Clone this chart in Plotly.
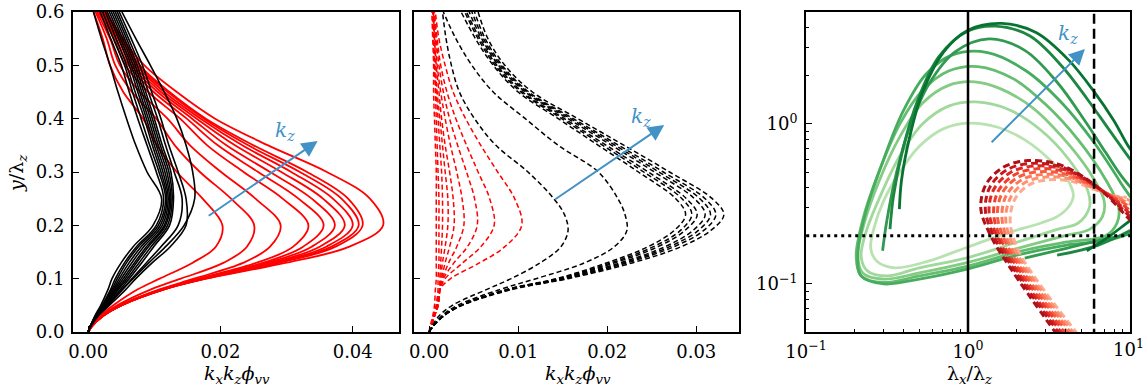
import math
import plotly.graph_objects as go

# ---------------- Panel (a): solid curves, x value at each y level ----------------
Y_LEVELS_A = [0, 0.01, 0.03, 0.05, 0.08, 0.1, 0.13, 0.16, 0.2, 0.25, 0.3, 0.35, 0.4, 0.45, 0.5, 0.55, 0.6]

RED_A = [
    [0, .0004, .0018, .0038, .0075, .0108, .0158, .0193, .0203, .0173, .0134, .0104, .0083, .0053, .0033, .0022, .0008],
    [0, .0005, .0020, .0044, .0095, .0140, .0205, .0240, .0251, .0216, .0169, .0131, .0103, .0066, .0041, .0028, .0011],
    [0, .0005, .0022, .0048, .0108, .0160, .0235, .0275, .0291, .0253, .0201, .0154, .0120, .0078, .0048, .0033, .0013],
    [0, .0005, .0022, .0049, .0110, .0167, .0255, .0310, .0333, .0294, .0235, .0180, .0139, .0091, .0056, .0039, .0015],
    [0, .0005, .0022, .0049, .0111, .0170, .0265, .0325, .0356, .0318, .0257, .0196, .0149, .0099, .0061, .0042, .0017],
    [0, .0005, .0022, .0049, .0112, .0172, .0272, .0338, .0373, .0338, .0275, .0209, .0157, .0105, .0065, .0045, .0019],
    [0, .0005, .0022, .0050, .0113, .0174, .0278, .0350, .0388, .0355, .0292, .0222, .0164, .0110, .0069, .0047, .0020],
    [0, .0005, .0022, .0050, .0114, .0175, .0283, .0360, .0400, .0370, .0307, .0233, .0170, .0115, .0073, .0050, .0022],
    [0, .0005, .0022, .0050, .0114, .0176, .0287, .0368, .0409, .0383, .0320, .0242, .0175, .0120, .0075, .0052, .0023],
    [0, .0005, .0022, .0050, .0115, .0177, .0290, .0374, .0415, .0393, .0331, .0250, .0178, .0123, .0078, .0053, .0024],
    [0, .0005, .0022, .0050, .0115, .0178, .0300, .0395, .0446, .0426, .0361, .0272, .0192, .0134, .0085, .0052, .0027],
]

BLACK_A = [
    [0, .0003, .0010, .0019, .0030, .0036, .0050, .0068, .0098, .0111, .0089, .0072, .0058, .0045, .0033, .0020, .0008],
    [0, .0003, .0011, .0021, .0034, .0041, .0055, .0073, .0103, .0114, .0103, .0089, .0075, .0062, .0050, .0034, .0018],
    [0, .0003, .0011, .0022, .0036, .0044, .0058, .0076, .0106, .0117, .0107, .0093, .0080, .0067, .0055, .0038, .0022],
    [0, .0003, .0012, .0023, .0038, .0047, .0062, .0080, .0109, .0119, .0110, .0097, .0085, .0071, .0058, .0042, .0026],
    [0, .0003, .0012, .0024, .0040, .0050, .0066, .0084, .0112, .0121, .0113, .0100, .0088, .0075, .0062, .0046, .0029],
    [0, .0003, .0012, .0025, .0042, .0053, .0070, .0088, .0115, .0123, .0116, .0103, .0091, .0078, .0065, .0049, .0032],
    [0, .0003, .0013, .0026, .0044, .0056, .0073, .0091, .0117, .0125, .0119, .0106, .0094, .0081, .0068, .0052, .0035],
    [0, .0003, .0013, .0027, .0046, .0059, .0077, .0095, .0120, .0127, .0122, .0109, .0097, .0084, .0071, .0055, .0038],
    [0, .0003, .0014, .0028, .0049, .0062, .0081, .0099, .0123, .0129, .0125, .0112, .0100, .0087, .0074, .0058, .0041],
    [0, .0003, .0014, .0030, .0052, .0066, .0088, .0110, .0136, .0142, .0130, .0117, .0105, .0091, .0078, .0061, .0044],
    [0, .0004, .0015, .0032, .0057, .0072, .0097, .0124, .0148, .0148, .0136, .0122, .0110, .0096, .0082, .0065, .0047],
    [0, .0003, .0014, .0029, .0052, .0068, .0092, .0117, .0145, .0161, .0158, .0148, .0134, .0115, .0094, .0072, .0051],
]

# ---------------- Panel (b): dashed curves ----------------
Y_LEVELS_B_RED = [0, 0.01, 0.03, 0.05, 0.08, 0.1, 0.13, 0.16, 0.2, 0.25, 0.3, 0.35, 0.4, 0.45, 0.5, 0.55, 0.6]
RED_B = [
    [0, .0002, .0005, .0008, .0012, .0024, .0057, .0085, .0104, .0096, .0077, .0058, .0041, .0027, .0018, .0011, .0007],
    [0, .0002, .0006, .0009, .0012, .0018, .0038, .0058, .0073, .0068, .0055, .0042, .0030, .0020, .0013, .0009, .0006],
    [0, .0002, .0006, .0009, .0012, .0016, .0028, .0043, .0054, .0051, .0042, .0032, .0023, .0016, .0011, .0008, .0005],
    [0, .0002, .0006, .0010, .0012, .0015, .0022, .0031, .0039, .0037, .0031, .0024, .0018, .0013, .0009, .0007, .0005],
    [0, .0002, .0006, .0010, .0012, .0014, .0018, .0023, .0028, .0027, .0023, .0018, .0014, .0011, .0008, .0006, .0005],
    [0, .0002, .0006, .0010, .0012, .0013, .0015, .0018, .0021, .0021, .0018, .0015, .0012, .0009, .0007, .0006, .0004],
    [0, .0002, .0006, .0010, .0012, .0012, .0013, .0014, .0015, .0015, .0014, .0012, .0010, .0008, .0006, .0005, .0004],
    [0, .0002, .0005, .0008, .0010, .0010, .0011, .0011, .0011, .0011, .0010, .0009, .0008, .0007, .0006, .0005, .0004],
    [0, .0001, .0004, .0006, .0007, .0008, .0008, .0008, .0008, .0008, .0008, .0007, .0006, .0005, .0005, .0004, .0003],
]

Y_LEVELS_B_BLACK = [0, 0.01, 0.03, 0.05, 0.08, 0.1, 0.13, 0.16, 0.19, 0.22, 0.25, 0.3, 0.35, 0.4, 0.45, 0.5, 0.55, 0.6]
BLACK_B = [
    [0, .0003, .0011, .0026, .0065, .0092, .0125, .0148, .0156, .0152, .0140, .0111, .0075, .0051, .0034, .0025, .0019, .0015],
    [0, .0004, .0014, .0032, .0080, .0120, .0175, .0208, .0222, .0220, .0212, .0190, .0145, .0108, .0072, .0048, .0030, .0016],
    [0, .0004, .0016, .0036, .0088, .0143, .0200, .0246, .0275, .0288, .0277, .0235, .0190, .0145, .0100, .0072, .0052, .0036],
    [0, .0004, .0016, .0036, .0089, .0145, .0205, .0252, .0282, .0295, .0284, .0241, .0195, .0149, .0103, .0074, .0055, .0040],
    [0, .0004, .0016, .0036, .0089, .0147, .0209, .0257, .0287, .0301, .0289, .0246, .0199, .0152, .0105, .0076, .0057, .0042],
    [0, .0004, .0016, .0036, .0090, .0149, .0215, .0265, .0296, .0310, .0298, .0253, .0205, .0156, .0108, .0078, .0059, .0045],
    [0, .0004, .0016, .0036, .0091, .0151, .0219, .0270, .0302, .0316, .0304, .0258, .0209, .0159, .0110, .0080, .0061, .0048],
    [0, .0004, .0016, .0036, .0092, .0153, .0223, .0275, .0308, .0322, .0310, .0263, .0213, .0162, .0112, .0082, .0063, .0051],
    [0, .0004, .0016, .0037, .0094, .0156, .0229, .0283, .0316, .0331, .0318, .0270, .0219, .0167, .0116, .0085, .0066, .0055],
]

# ---------------- Panel (c): loci in (lambda_x/lambda_z, y/lambda_z) ----------------
GREEN_X = [
    [3.55, 4.17, 4.47, 4.17, 3.16, 2.24, 1.51, 1.00, 0.708, 0.501, 0.380, 0.302, 0.263, 0.251, 0.275, 0.355, 0.562, 1.00, 1.78, 2.82, 3.55],
    [4.79, 5.62, 5.50, 4.17, 2.82, 1.78, 1.12, 0.759, 0.525, 0.380, 0.288, 0.234, 0.219, 0.240, 0.316, 0.501, 1.00, 2.00, 3.55, 4.79],
    [5.62, 6.76, 6.92, 5.62, 3.80, 2.51, 1.58, 1.10, 0.759, 0.525, 0.380, 0.282, 0.229, 0.209, 0.224, 0.302, 0.501, 1.00, 2.00, 3.98, 5.62],
    [7.08, 8.32, 8.51, 7.08, 4.79, 3.02, 1.91, 1.15, 0.759, 0.525, 0.380, 0.282, 0.224, 0.204, 0.219, 0.302, 0.501, 1.00, 2.00, 3.98, 7.08],
    [7.94, 10.5, 11.2, 8.91, 6.03, 3.80, 2.29, 1.32, 0.794, 0.550, 0.398, 0.302, 0.234, 0.209, 0.219, 0.302, 0.501, 1.00, 2.00, 3.98, 7.94],
    [0.297, 0.316, 0.363, 0.437, 0.575, 0.832, 1.35, 2.24, 3.55, 5.25, 7.08, 8.91, 11.2, None, 2.24, 3.98, 7.08, 11.2],
    [0.330, 0.347, 0.398, 0.490, 0.661, 1.00, 1.48, 2.40, 3.80, 5.50, 7.59, 10.0, 11.5, None, 3.55, 6.31, 11.2],
    [0.377, 0.389, 0.437, 0.525, 0.708, 1.00, 1.62, 2.63, 4.17, 6.03, 7.94, 9.77, 11.2, None, 5.41, 7.08, 10.0, 11.2],
]
GREEN_Y = [
    [0.263, 0.302, 0.355, 0.437, 0.603, 0.794, 0.955, 1.01, 0.933, 0.724, 0.501, 0.331, 0.224, 0.166, 0.138, 0.126, 0.138, 0.170, 0.209, 0.240, 0.263],
    [0.240, 0.302, 0.380, 0.603, 0.912, 1.23, 1.37, 1.29, 1.00, 0.631, 0.355, 0.209, 0.148, 0.120, 0.112, 0.126, 0.146, 0.182, 0.219, 0.240],
    [0.219, 0.263, 0.331, 0.501, 0.832, 1.26, 1.66, 1.83, 1.74, 1.35, 0.832, 0.437, 0.240, 0.151, 0.117, 0.107, 0.117, 0.136, 0.166, 0.200, 0.219],
    [0.200, 0.240, 0.302, 0.447, 0.794, 1.32, 1.91, 2.28, 2.14, 1.62, 1.00, 0.501, 0.251, 0.148, 0.112, 0.102, 0.112, 0.129, 0.158, 0.182, 0.200],
    [0.191, 0.219, 0.282, 0.417, 0.759, 1.35, 2.14, 2.79, 2.69, 2.04, 1.20, 0.603, 0.282, 0.158, 0.112, 0.100, 0.107, 0.124, 0.151, 0.174, 0.191],
    [0.161, 0.251, 0.501, 0.955, 1.78, 2.82, 3.40, 2.88, 1.82, 1.05, 0.661, 0.468, 0.355, None, 0.145, 0.166, 0.191, 0.209],
    [0.220, 0.355, 0.708, 1.41, 2.63, 3.80, 4.08, 3.55, 2.29, 1.41, 0.891, 0.603, 0.501, None, 0.151, 0.174, 0.229],
    [0.293, 0.447, 0.832, 1.58, 2.82, 3.85, 4.24, 3.72, 2.51, 1.58, 1.05, 0.724, 0.603, None, 0.161, 0.191, 0.248, 0.269],
]

REDC_X = [
    [4.79, 2.63, 2.04, 1.82, 1.95, 2.40, 3.16, 4.37, 6.03, 7.94, 9.55],
    [4.58, 2.49, 1.93, 1.71, 1.84, 2.28, 3.03, 4.24, 5.89, 7.83, 10.0, 11.5],
    [4.40, 2.37, 1.82, 1.62, 1.73, 2.16, 2.90, 4.11, 5.75, 7.74, 10.0, 11.5],
    [4.21, 2.24, 1.73, 1.52, 1.63, 2.05, 2.78, 3.99, 5.62, 7.64, 10.0, 11.5],
    [4.04, 2.13, 1.63, 1.44, 1.54, 1.95, 2.67, 3.88, 5.50, 7.53, 10.0, 11.5],
    [3.86, 2.02, 1.55, 1.35, 1.45, 1.85, 2.55, 3.77, 5.37, 7.43, 10.0, 11.5],
    [3.71, 1.92, 1.46, 1.28, 1.37, 1.75, 2.45, 3.66, 5.25, 7.35, 10.0, 11.5],
    [3.55, 1.82, 1.38, 1.20, 1.29, 1.66, 2.34, 3.55, 5.13, 7.24, 10.0, 11.5],
]
REDC_Y = [
    [0.048, 0.107, 0.162, 0.245, 0.339, 0.417, 0.447, 0.437, 0.389, 0.355, 0.347],
    [0.048, 0.110, 0.167, 0.252, 0.349, 0.433, 0.465, 0.453, 0.399, 0.355, 0.331, 0.295],
    [0.048, 0.112, 0.172, 0.259, 0.360, 0.448, 0.483, 0.469, 0.410, 0.355, 0.316, 0.282],
    [0.048, 0.115, 0.177, 0.265, 0.371, 0.465, 0.502, 0.486, 0.421, 0.355, 0.302, 0.269],
    [0.048, 0.117, 0.182, 0.273, 0.381, 0.482, 0.524, 0.505, 0.433, 0.355, 0.288, 0.257],
    [0.048, 0.120, 0.188, 0.280, 0.393, 0.500, 0.545, 0.524, 0.444, 0.355, 0.275, 0.245],
    [0.048, 0.123, 0.194, 0.288, 0.405, 0.518, 0.566, 0.542, 0.456, 0.355, 0.263, 0.234],
    [0.048, 0.126, 0.200, 0.295, 0.417, 0.537, 0.589, 0.562, 0.468, 0.355, 0.251, 0.224],
]

GREEN_COLORS = ['#b8e3b1', '#a0d99b', '#84cb83', '#65bd6f', '#46ad5f', '#319a50', '#1d8641', '#077331']
RED_COLORS = ['#fcab8e', '#fc9171', '#fb7858', '#f85c41', '#f03f2f', '#dc2824', '#c5161c', '#ad1117']

# reference lines of panel (c)
VLINE_SOLID_X = 1.0
VLINE_DASH_X = 6.0
HLINE_DOT_Y = 0.2

# arrows (start, end) and label positions
ARROW_A = [(0.0180, 0.216), (0.0347, 0.358)]
LABEL_A = (0.0298, 0.376)
ARROW_B = [(0.0140, 0.247), (0.0264, 0.388)]
LABEL_B = (0.0238, 0.404)
ARROW_C = [(1.37, 0.75), (5.27, 2.94)]
LABEL_C = (4.14, 3.65)

TICKS_A_X = [0.0, 0.02, 0.04]
TICKS_B_X = [0.0, 0.01, 0.02, 0.03]
TICKS_Y = [0.0, 0.1, 0.2, 0.3, 0.4, 0.5, 0.6]
TICKS_C_X = [0.1, 1, 10]
TICKS_C_X_TEXT = ['10<sup>−1</sup>', '10<sup>0</sup>', '10<sup>1</sup>']
TICKS_C_Y = [0.1, 1]
TICKS_C_Y_TEXT = ['10<sup>−1</sup>', '10<sup>0</sup>']

FONT = 'DejaVu Serif'
FS = 18
ARROW_COLOR = '#4292c6'

fig = go.Figure()

# Panel (a)
for xs in RED_A:
    fig.add_trace(go.Scatter(x=xs, y=Y_LEVELS_A, mode='lines', xaxis='x', yaxis='y',
                             line=dict(color='#ff0000', width=1.8, shape='spline', smoothing=1.0),
                             showlegend=False, hoverinfo='skip'))
for xs in BLACK_A:
    fig.add_trace(go.Scatter(x=xs, y=Y_LEVELS_A, mode='lines', xaxis='x', yaxis='y',
                             line=dict(color='#000000', width=1.6, shape='spline', smoothing=1.0),
                             showlegend=False, hoverinfo='skip'))

# Panel (b)
for xs in RED_B:
    fig.add_trace(go.Scatter(x=xs, y=Y_LEVELS_B_RED, mode='lines', xaxis='x2', yaxis='y2',
                             line=dict(color='#ff0000', width=1.5, dash='5px,3px', shape='spline', smoothing=1.0),
                             showlegend=False, hoverinfo='skip'))
for xs in BLACK_B:
    fig.add_trace(go.Scatter(x=xs, y=Y_LEVELS_B_BLACK, mode='lines', xaxis='x2', yaxis='y2',
                             line=dict(color='#000000', width=1.5, dash='5px,3px', shape='spline', smoothing=1.0),
                             showlegend=False, hoverinfo='skip'))

# Panel (c)
for xs, ys, c in zip(GREEN_X, GREEN_Y, GREEN_COLORS):
    fig.add_trace(go.Scatter(x=xs, y=ys, mode='lines', xaxis='x3', yaxis='y3', connectgaps=False,
                             line=dict(color=c, width=2.8, shape='spline', smoothing=1.0),
                             showlegend=False, hoverinfo='skip'))
for xs, ys, c in zip(REDC_X, REDC_Y, RED_COLORS):
    fig.add_trace(go.Scatter(x=xs, y=ys, mode='lines', xaxis='x3', yaxis='y3',
                             line=dict(color=c, width=3, dash='7px,4px', shape='spline', smoothing=1.0),
                             showlegend=False, hoverinfo='skip'))

fig.add_trace(go.Scatter(x=[VLINE_SOLID_X, VLINE_SOLID_X], y=[0.01, 10], mode='lines', xaxis='x3', yaxis='y3',
                         line=dict(color='black', width=2.5), showlegend=False, hoverinfo='skip'))
fig.add_trace(go.Scatter(x=[VLINE_DASH_X, VLINE_DASH_X], y=[0.01, 10], mode='lines', xaxis='x3', yaxis='y3',
                         line=dict(color='black', width=2.5, dash='10px,5px'), showlegend=False, hoverinfo='skip'))
fig.add_trace(go.Scatter(x=[0.05, 20], y=[HLINE_DOT_Y, HLINE_DOT_Y], mode='lines', xaxis='x3', yaxis='y3',
                         line=dict(color='black', width=3, dash='3px,4px'), showlegend=False, hoverinfo='skip'))

W, H = 1148, 390
Y_DOM = [(H - 332) / H, (H - 12) / H]
AX_COMMON = dict(showline=True, linecolor='black', linewidth=1.8, mirror=True, ticks='inside',
                 ticklen=6, tickwidth=1.2, tickcolor='black', showgrid=False, zeroline=False,
                 automargin=False,
                 tickfont=dict(family=FONT, size=FS, color='black'))

# the last x label of panel (c) sits at the page edge: it is drawn as an annotation shifted inwards
x3_text = TICKS_C_X_TEXT[:-1] + ['']

fig.update_layout(
    template='none',
    width=W, height=H, margin=dict(l=0, r=0, t=0, b=0, pad=0, autoexpand=False),
    paper_bgcolor='white', plot_bgcolor='white',
    font=dict(family=FONT, size=FS, color='black'),
    xaxis=dict(domain=[73 / W, 399 / W], range=[-0.0023, 0.047], anchor='y', ticklabelstandoff=2,
               tickvals=TICKS_A_X, ticktext=[f'{v:.2f}' for v in TICKS_A_X], **AX_COMMON),
    yaxis=dict(domain=Y_DOM, range=[0, 0.6], anchor='x', ticklabelstandoff=3,
               tickvals=TICKS_Y, ticktext=[f'{v:.1f}' for v in TICKS_Y], **AX_COMMON),
    xaxis2=dict(domain=[414 / W, 739 / W], range=[-0.0017, 0.0348], anchor='y2', ticklabelstandoff=2,
                tickvals=TICKS_B_X, ticktext=[f'{v:.2f}' for v in TICKS_B_X], **AX_COMMON),
    yaxis2=dict(domain=Y_DOM, range=[0, 0.6], anchor='x2', tickvals=TICKS_Y, showticklabels=False, **AX_COMMON),
    xaxis3=dict(domain=[806 / W, 1130 / W], type='log', range=[-1, 1], anchor='y3', ticklabelstandoff=2,
                tickvals=TICKS_C_X, ticktext=x3_text,
                minor=dict(ticks='inside', ticklen=3, tickwidth=1, tickcolor='black',
                           tickvals=[0.2, 0.3, 0.4, 0.5, 0.6, 0.7, 0.8, 0.9, 2, 3, 4, 5, 6, 7, 8, 9]),
                **AX_COMMON),
    yaxis3=dict(domain=Y_DOM, type='log', range=[math.log10(0.05), math.log10(5)], anchor='x3',
                ticklabelstandoff=3,
                tickvals=TICKS_C_Y, ticktext=TICKS_C_Y_TEXT,
                minor=dict(ticks='inside', ticklen=3, tickwidth=1, tickcolor='black',
                           tickvals=[0.06, 0.07, 0.08, 0.09, 0.2, 0.3, 0.4, 0.5, 0.6, 0.7, 0.8, 0.9, 2, 3, 4]),
                **AX_COMMON),
)

annotations = []


def arrow(xref, yref, start, end, log=False):
    f = (lambda v: math.log10(v)) if log else (lambda v: v)
    return dict(xref=xref, yref=yref, axref=xref, ayref=yref,
                x=f(end[0]), y=f(end[1]), ax=f(start[0]), ay=f(start[1]),
                text='', showarrow=True, arrowhead=2, arrowsize=1.6, arrowwidth=2,
                arrowcolor=ARROW_COLOR, standoff=0, startstandoff=0)


def kz_label(xref, yref, pos, log=False):
    f = (lambda v: math.log10(v)) if log else (lambda v: v)
    return dict(xref=xref, yref=yref, x=f(pos[0]), y=f(pos[1]), showarrow=False,
                text='<i>k</i><sub><i>z</i></sub>', font=dict(family=FONT, size=20, color=ARROW_COLOR),
                xanchor='center', yanchor='middle')


annotations += [arrow('x', 'y', *ARROW_A), kz_label('x', 'y', LABEL_A),
                arrow('x2', 'y2', *ARROW_B), kz_label('x2', 'y2', LABEL_B),
                arrow('x3', 'y3', *ARROW_C, log=True), kz_label('x3', 'y3', LABEL_C, log=True)]

# last tick label of panel (c) x axis, kept inside the page
annotations.append(dict(xref='paper', yref='paper', x=1146 / W, y=(H - 334) / H, text=TICKS_C_X_TEXT[-1],
                        showarrow=False, font=dict(family=FONT, size=FS, color='black'),
                        xanchor='right', yanchor='top'))

XT = '<i>k</i><sub><i>x</i></sub><i>k</i><sub><i>z</i></sub><i>ϕ</i><sub><i>vv</i></sub>'
title_font = dict(family=FONT, size=19, color='black')
annotations += [
    dict(xref='paper', yref='paper', x=237 / W, y=(H - 374) / H, text=XT, showarrow=False,
         font=title_font, xanchor='center', yanchor='middle'),
    dict(xref='paper', yref='paper', x=578 / W, y=(H - 374) / H, text=XT, showarrow=False,
         font=title_font, xanchor='center', yanchor='middle'),
    dict(xref='paper', yref='paper', x=970 / W, y=(H - 374) / H, text='λ<sub><i>x</i></sub>/λ<sub><i>z</i></sub>',
         showarrow=False, font=title_font, xanchor='center', yanchor='middle'),
    dict(xref='paper', yref='paper', x=17 / W, y=(H - 173) / H, text='<i>y</i>/λ<sub><i>z</i></sub>',
         showarrow=False, font=title_font, xanchor='center', yanchor='middle', textangle=-90),
]
fig.update_layout(annotations=annotations)

fig.write_html('out.html')
